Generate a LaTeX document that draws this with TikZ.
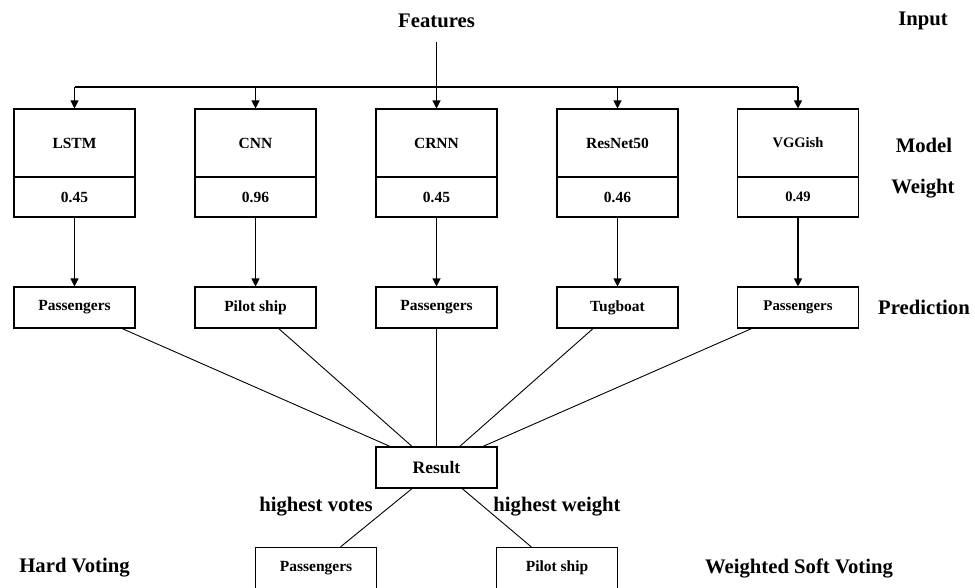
\documentclass[tikz,border=0pt]{standalone}
\usepackage{fontspec}
\setmainfont{Liberation Serif}
\usetikzlibrary{arrows.meta,calc}
\begin{document}
\begin{tikzpicture}[x=1pt,y=-1pt,
  every node/.style={font=\bfseries},
  boxbase/.style={draw,line width=1.1pt,inner sep=0pt,minimum width=121pt},
  modelbox/.style={boxbase,minimum height=68pt,font=\bfseries\fontsize{15.5}{17}\selectfont},
  weightbox/.style={boxbase,minimum height=40pt,font=\bfseries\fontsize{15.5}{17}\selectfont},
  predbox/.style={boxbase,minimum height=41pt,font=\bfseries\fontsize{15.5}{17}\selectfont},
  biglabel/.style={font=\bfseries\fontsize{20.7}{23}\selectfont,inner sep=0pt},
  arr/.style={line width=1.1pt,-{Triangle[length=8pt,width=8pt]}},
  conn/.style={line width=0.9pt}
]
\useasboundingbox (0,0) rectangle (975,587);

% labels
\node[biglabel] (feat) at (436.5,21) {Features};
\node[biglabel] (linput) at (923,21) {Input};
\node[biglabel] (lmodel) at (924,145) {Model};
\node[biglabel] (lweight) at (923,189) {Weight};
\node[biglabel] (lpred) at (924,307) {Prediction};
\node[biglabel] (lhard) at (74.5,568) {Hard Voting};
\node[biglabel] (lsoft) at (799,568) {Weighted Soft Voting};
\node[biglabel] (lvotes) at (316,507) {highest votes};
\node[biglabel] (lhw) at (557,507) {highest weight};

% model boxes
\node[modelbox] (m1) at (74.5,143) {LSTM};
\node[modelbox] (m2) at (255.5,143) {CNN};
\node[modelbox] (m3) at (436.5,143) {CRNN};
\node[modelbox] (m4) at (617.5,143) {ResNet50};
\node[modelbox,font=\bfseries\fontsize{14.5}{16}\selectfont] (m5) at (798,143) {VGGish};

\node[weightbox] (w1) at (74.5,197) {0.45};
\node[weightbox] (w2) at (255.5,197) {0.96};
\node[weightbox] (w3) at (436.5,197) {0.45};
\node[weightbox] (w4) at (617.5,197) {0.46};
\node[weightbox,font=\bfseries\fontsize{14.5}{16}\selectfont] (w5) at (798,197) {0.49};

% prediction boxes
\node[predbox] (p1) at (74.5,307.5) {Passengers};
\node[predbox] (p2) at (255.5,307.5) {Pilot ship};
\node[predbox] (p3) at (436.5,307.5) {Passengers};
\node[predbox] (p4) at (617.5,307.5) {Tugboat};
\node[predbox,font=\bfseries\fontsize{14.8}{16}\selectfont] (p5) at (798,307.5) {Passengers};

% result
\node[predbox,font=\bfseries\fontsize{17.5}{19}\selectfont] (res) at (436.5,467.5) {Result};

% final boxes
\node[predbox] (hv) at (316,568) {Passengers};
\node[predbox] (sv) at (557,568) {Pilot ship};

% input connectors
\coordinate (fstart) at (436.5,42);
\coordinate (bus) at (436.5,87);
\draw[line width=1.1pt] (m1.north |- bus) -- (m5.north |- bus);
\draw[arr] (fstart) -- (m3.north);
\foreach \i in {1,2,4,5} {\draw[arr] (m\i.north |- bus) -- (m\i.north);}

% model to prediction
\foreach \i in {1,...,5} {\draw[arr] (w\i.south) -- (p\i.north);}

% prediction to result
\draw[conn] ($(p1.south west)!0.89!(p1.south east)$) -- ($(res.north west)!0.12!(res.north east)$);
\draw[conn] ($(p2.south west)!0.69!(p2.south east)$) -- ($(res.north west)!0.30!(res.north east)$);
\draw[conn] (p3.south) -- (res.north);
\draw[conn] ($(p4.south west)!0.30!(p4.south east)$) -- ($(res.north west)!0.69!(res.north east)$);
\draw[conn] ($(p5.south west)!0.12!(p5.south east)$) -- ($(res.north west)!0.88!(res.north east)$);

% result to final
\draw[conn] ($(res.south west)!0.30!(res.south east)$) -- ($(hv.north west)!0.70!(hv.north east)$);
\draw[conn] ($(res.south west)!0.71!(res.south east)$) -- ($(sv.north west)!0.29!(sv.north east)$);
\end{tikzpicture}
\end{document}
